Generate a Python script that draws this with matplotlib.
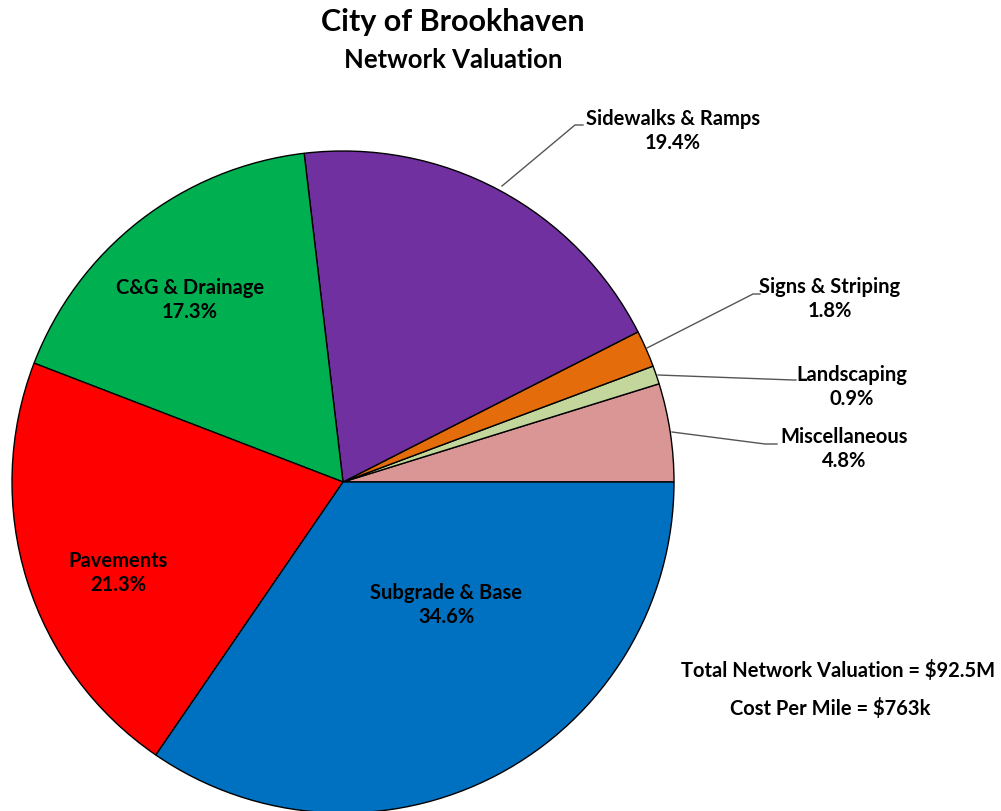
import matplotlib.pyplot as plt

# slice data, counterclockwise from 3 o'clock
labels = ['Miscellaneous', 'Landscaping', 'Signs & Striping', 'Sidewalks & Ramps',
          'C&G & Drainage', 'Pavements', 'Subgrade & Base']
shares = [4.8, 0.9, 1.8, 19.4, 17.3, 21.3, 34.6]
colors = ['#D99694', '#C3D69B', '#E46C0A', '#7030A0', '#00B050', '#FF0000', '#0070C0']

total_text = 'Total Network Valuation = $92.5M'
mile_text = 'Cost Per Mile = $763k'

plt.rcParams['font.family'] = ['Lato', 'DejaVu Sans']
plt.rcParams['font.weight'] = 'bold'

W, H = 1001, 811
fig = plt.figure(figsize=(W / 100, H / 100), dpi=100)
ax = fig.add_axes([0, 0, 1, 1])

cx, cy, r = 343, H - 482, 331
ax.pie(shares, colors=colors, startangle=0, counterclock=True,
       center=(cx, cy), radius=r, frame=True,
       wedgeprops=dict(edgecolor='black', linewidth=1))
ax.set_xlim(0, W)
ax.set_ylim(0, H)
ax.axis('off')

fs = 14.5
# labels inside the pie
inside = {'C&G & Drainage': (190, 300), 'Pavements': (118, 573), 'Subgrade & Base': (446, 605)}
# labels outside with leader lines: text pos, line points
outside = {
    'Sidewalks & Ramps': ((673, 131), [(502, 186), (575, 125), (583, 125)]),
    'Signs & Striping': ((830, 299), [(647, 348), (753, 294), (760, 294)]),
    'Landscaping': ((852, 387), [(658, 375), (793, 380), (796, 380)]),
    'Miscellaneous': ((844, 449), [(672, 432), (765, 444), (777, 444)]),
}

for lab, val in zip(labels, shares):
    txt = f'{lab}\n{val:.1f}%'
    if lab in inside:
        x, y = inside[lab]
    else:
        (x, y), pts = outside[lab]
        ax.plot([p[0] for p in pts], [H - p[1] for p in pts], color='#555555', lw=1)
    ax.text(x, H - y, txt, ha='center', va='center', fontsize=fs,
            fontweight='bold', linespacing=1.3)

fig.text(453 / W, 1 - 22 / H, 'City of Brookhaven', ha='center', va='center',
         fontsize=22, fontweight='bold')
fig.text(453 / W, 1 - 60 / H, 'Network Valuation', ha='center', va='center',
         fontsize=18.5, fontweight='bold')
fig.text(838 / W, 1 - 670 / H, total_text, ha='center', va='center',
         fontsize=14.5, fontweight='bold')
fig.text(830 / W, 1 - 709 / H, mile_text, ha='center', va='center',
         fontsize=14.5, fontweight='bold')

fig.savefig('out.png', dpi=100)
